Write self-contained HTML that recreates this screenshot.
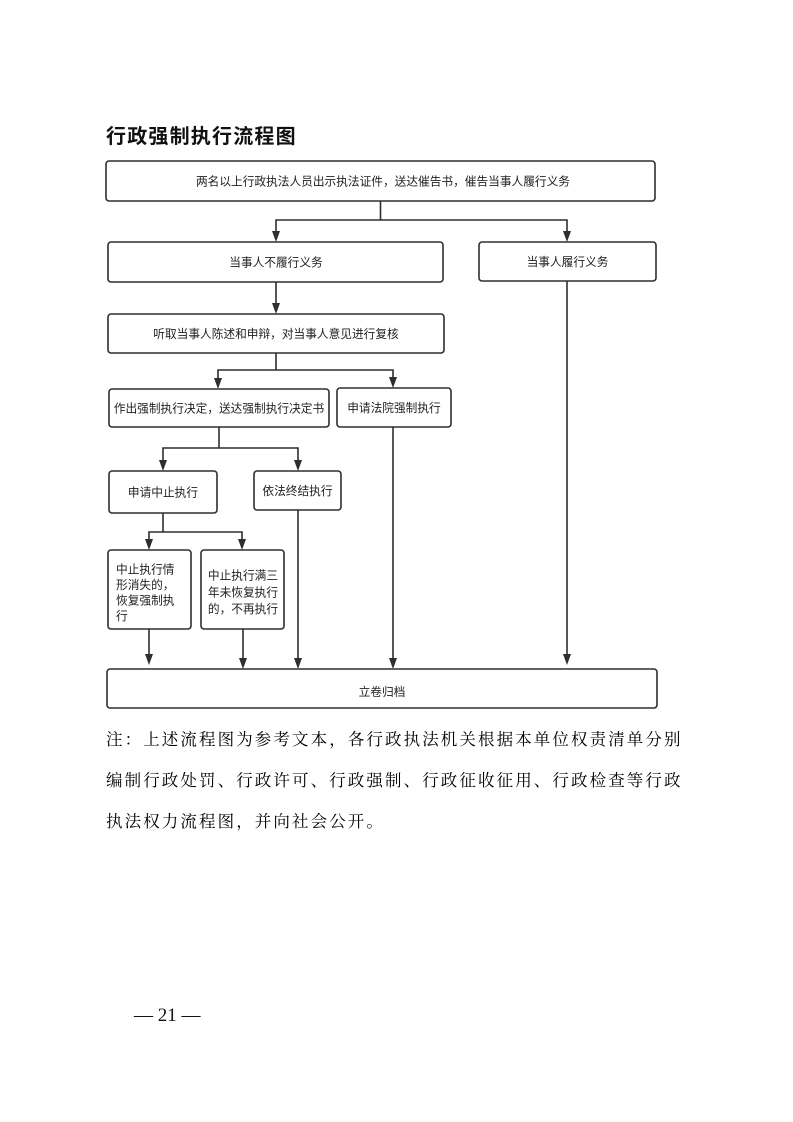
<!DOCTYPE html>
<html>
<head>
<meta charset="utf-8">
<style>
html,body{margin:0;padding:0;background:#fff;}
body{width:793px;height:1122px;overflow:hidden;}
svg{display:block;}
.bx{fill:#fff;stroke:#2e2e2e;stroke-width:1.6;}
.ln{fill:none;stroke:#2e2e2e;stroke-width:1.6;}
.ah{fill:#2e2e2e;stroke:none;}
.t{font-family:"Liberation Sans","Noto Sans CJK SC",sans-serif;font-size:11.7px;fill:#222;text-anchor:middle;}
.tl{font-family:"Liberation Sans","Noto Sans CJK SC",sans-serif;font-size:11.7px;fill:#222;}
.note{font-family:"Liberation Serif","Noto Serif CJK SC",serif;font-size:16.5px;fill:#000;letter-spacing:2.1px;}
</style>
</head>
<body>
<svg width="793" height="1122" viewBox="0 0 793 1122" xmlns="http://www.w3.org/2000/svg">
  <!-- Title -->
  <text x="106" y="143" style="font-family:'Liberation Sans','Noto Sans CJK SC',sans-serif;font-size:20px;font-weight:bold;fill:#111;letter-spacing:1.2px;">行政强制执行流程图</text>

  <!-- Box 1 -->
  <rect class="bx" x="106" y="161" width="549" height="40" rx="3"/>
  <text class="t" x="383" y="185.5">两名以上行政执法人员出示执法证件，送达催告书，催告当事人履行义务</text>

  <!-- connector from box1 -->
  <polyline class="ln" points="380.5,201 380.5,220"/>
  <polyline class="ln" points="276,231 276,220 567,220 567,231"/>
  <polygon class="ah" points="272,231 280,231 276,242"/>
  <polygon class="ah" points="563,231 571,231 567,242"/>

  <!-- Box 2 -->
  <rect class="bx" x="108" y="242" width="335" height="40" rx="3"/>
  <text class="t" x="276" y="266.5">当事人不履行义务</text>

  <!-- Box 3 -->
  <rect class="bx" x="479" y="242" width="177" height="39" rx="3"/>
  <text class="t" x="567.5" y="266">当事人履行义务</text>

  <!-- box2 -> box4 -->
  <line class="ln" x1="276" y1="282" x2="276" y2="303"/>
  <polygon class="ah" points="272,303 280,303 276,314"/>

  <!-- Box 4 -->
  <rect class="bx" x="108" y="314" width="336" height="39" rx="3"/>
  <text class="t" x="276" y="338">听取当事人陈述和申辩，对当事人意见进行复核</text>

  <!-- box4 split -->
  <line class="ln" x1="276" y1="353" x2="276" y2="370"/>
  <polyline class="ln" points="218,378 218,370 393,370 393,377"/>
  <polygon class="ah" points="214,378 222,378 218,389"/>
  <polygon class="ah" points="389,377 397,377 393,388"/>

  <!-- Box 5 -->
  <rect class="bx" x="109" y="389" width="220" height="38" rx="3"/>
  <text class="t" x="219" y="412.5">作出强制执行决定，送达强制执行决定书</text>

  <!-- Box 6 -->
  <rect class="bx" x="337" y="388" width="114" height="39" rx="3"/>
  <text class="t" x="394" y="412">申请法院强制执行</text>

  <!-- box5 split -->
  <line class="ln" x1="219" y1="427" x2="219" y2="448"/>
  <polyline class="ln" points="163,460 163,448 298,448 298,460"/>
  <polygon class="ah" points="159,460 167,460 163,471"/>
  <polygon class="ah" points="294,460 302,460 298,471"/>

  <!-- Box 7 -->
  <rect class="bx" x="109" y="471" width="108" height="42" rx="3"/>
  <text class="t" x="163" y="496.5">申请中止执行</text>

  <!-- Box 8 -->
  <rect class="bx" x="254" y="471" width="87" height="39" rx="3"/>
  <text class="t" x="297.5" y="495">依法终结执行</text>

  <!-- box7 split -->
  <line class="ln" x1="163" y1="513" x2="163" y2="532"/>
  <polyline class="ln" points="149,539 149,532 242,532 242,539"/>
  <polygon class="ah" points="145,539 153,539 149,550"/>
  <polygon class="ah" points="238,539 246,539 242,550"/>

  <!-- Box 9 -->
  <rect class="bx" x="108" y="550" width="83" height="79" rx="3"/>
  <text class="tl" x="116" y="573.5">中止执行情</text>
  <text class="tl" x="116" y="589">形消失的，</text>
  <text class="tl" x="116" y="604.5">恢复强制执</text>
  <text class="tl" x="116" y="620">行</text>

  <!-- Box 10 -->
  <rect class="bx" x="201" y="550" width="83" height="79" rx="3"/>
  <text class="t" x="243" y="579.5">中止执行满三</text>
  <text class="t" x="243" y="596.5">年未恢复执行</text>
  <text class="t" x="243" y="613">的，不再执行</text>

  <!-- arrows to bottom box -->
  <line class="ln" x1="149" y1="629" x2="149" y2="655"/>
  <polygon class="ah" points="145,654 153,654 149,665"/>
  <line class="ln" x1="243" y1="629" x2="243" y2="659"/>
  <polygon class="ah" points="239,658 247,658 243,669"/>
  <line class="ln" x1="298" y1="510" x2="298" y2="659"/>
  <polygon class="ah" points="294,658 302,658 298,669"/>
  <line class="ln" x1="393" y1="427" x2="393" y2="659"/>
  <polygon class="ah" points="389,658 397,658 393,669"/>
  <line class="ln" x1="567" y1="281" x2="567" y2="655"/>
  <polygon class="ah" points="563,654 571,654 567,665"/>

  <!-- Bottom box -->
  <rect class="bx" x="107" y="669" width="550" height="39" rx="3"/>
  <text class="t" x="382" y="696">立卷归档</text>

  <!-- Note -->
  <text class="note" x="106" y="745">注：上述流程图为参考文本，各行政执法机关根据本单位权责清单分别</text>
  <text class="note" x="106" y="786">编制行政处罚、行政许可、行政强制、行政征收征用、行政检查等行政</text>
  <text class="note" x="106" y="827">执法权力流程图，并向社会公开。</text>

  <!-- Page number -->
  <text x="134" y="1021" style="font-family:'Liberation Serif',serif;font-size:19px;fill:#111;">— 21 —</text>
</svg>
</body>
</html>
